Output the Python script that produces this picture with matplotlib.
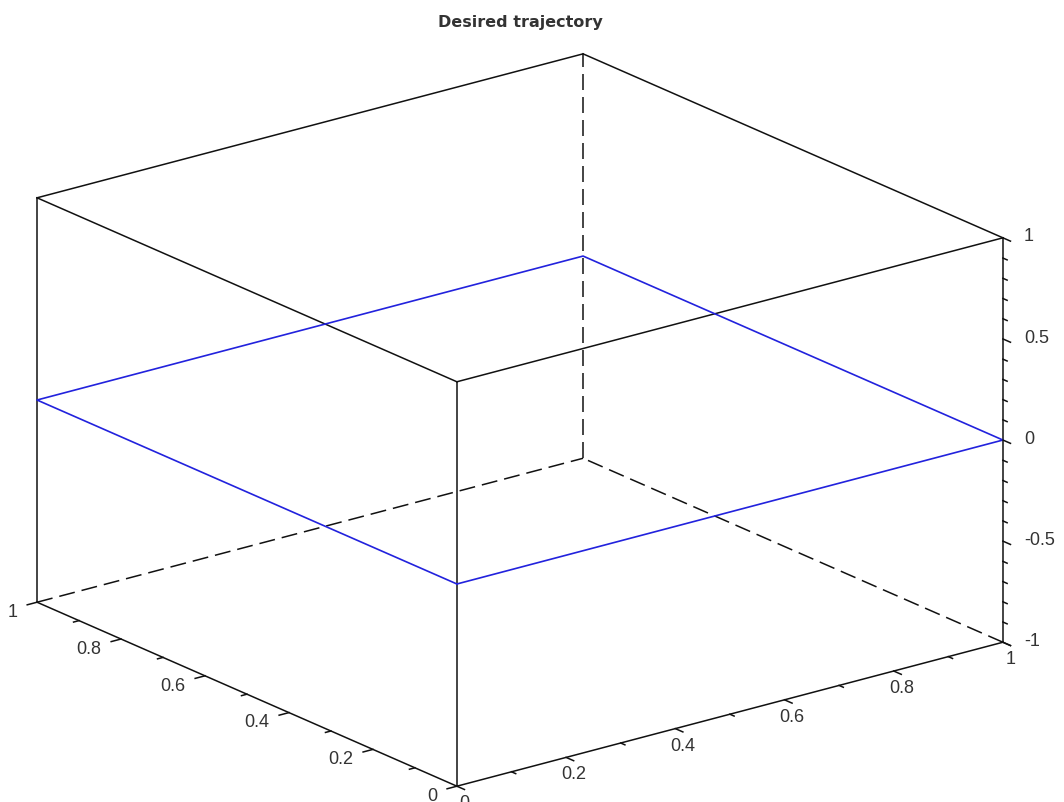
import matplotlib
matplotlib.use('Agg')
import matplotlib.pyplot as plt
import numpy as np
from mpl_toolkits.mplot3d import proj3d

# desired trajectory: unit square in the z = 0 plane
traj_x = [0, 1, 1, 0, 0]
traj_y = [0, 0, 1, 1, 0]
traj_z = [0, 0, 0, 0, 0]

x_ticks = [0, 0.2, 0.4, 0.6, 0.8, 1]
x_labels = ['0', '0.2', '0.4', '0.6', '0.8', '1']
y_ticks = [0, 0.2, 0.4, 0.6, 0.8, 1]
y_labels = ['0', '0.2', '0.4', '0.6', '0.8', '1']
z_ticks = [-1, -0.5, 0, 0.5, 1]
z_labels = ['-1', '-0.5', '0', '0.5', '1']

xlim = (0, 1)
ylim = (0, 1)
zlim = (-1, 1)

FONT = 'Liberation Sans'
LW = 1.1
DASH = (0, (12.8 * 0.9 / LW, 5.6 * 0.9 / LW))

fig = plt.figure(figsize=(10.64, 8.03), dpi=100)
ax = fig.add_axes([-26.4 / 1064, -164.4 / 803, 1.0, 1064 / 803], projection='3d')
ax.set_proj_type('ortho')
ax.view_init(elev=19.87, azim=-127.8)
ax.set_box_aspect((691, 685, 430), zoom=0.9706)
ax.set_xlim(*xlim)
ax.set_ylim(*ylim)
ax.set_zlim(*zlim)
ax.set_xticks([])
ax.set_yticks([])
ax.set_zticks([])
ax.set_axis_off()

# bounding box, edges meeting the hidden back corner are dashed
def corner(c):
    return (xlim[c[0]], ylim[c[1]], zlim[c[2]])

edges = []
for j in (0, 1):
    for k in (0, 1):
        edges.append(((0, j, k), (1, j, k)))
for i in (0, 1):
    for k in (0, 1):
        edges.append(((i, 0, k), (i, 1, k)))
for i in (0, 1):
    for j in (0, 1):
        edges.append(((i, j, 0), (i, j, 1)))

hidden = (1, 1, 0)
for a, b in edges:
    p, q = corner(a), corner(b)
    ls = DASH if hidden in (a, b) else '-'
    ax.plot([p[0], q[0]], [p[1], q[1]], [p[2], q[2]], color='#111111',
            lw=LW, linestyle=ls, clip_on=False)

# trajectory
ax.plot(traj_x, traj_y, traj_z, color='#2222dd', lw=1.2, clip_on=False)

# ticks
major_len = 0.018
minor_len = 0.01
minor_xy = np.round(np.arange(0, 1.001, 0.1), 2)
minor_z = np.round(np.arange(-1, 1.001, 0.1), 2)

for v in minor_xy:
    L = major_len if np.isclose(v, x_ticks).any() else minor_len
    ax.plot([v, v], [0, -L], [-1, -1], color='#111111', lw=LW, clip_on=False)
    ax.plot([0, -L], [v, v], [-1, -1], color='#111111', lw=LW, clip_on=False)
for v in minor_z:
    L = major_len if np.isclose(v, z_ticks).any() else minor_len
    ax.plot([1, 1], [0, -L], [v, v], color='#111111', lw=LW, clip_on=False)

# tick labels, projected to the 2d plane of the axes
M = ax.get_proj()

def label(x, y, z, s, **kw):
    px, py, _ = proj3d.proj_transform(x, y, z, M)
    ax.text2D(px, py, s, transform=ax.transData, fontsize=13, family=FONT,
              color='#333333', **kw)

for v, s in zip(x_ticks, x_labels):
    label(v, -0.018, -1.065, s, ha='center', va='center')
for v, s in zip(y_ticks, y_labels):
    label(-0.036, v, -1.02, s, ha='right', va='center')
for v, s in zip(z_ticks, z_labels):
    label(1, -0.05, v + 0.055, s, ha='left', va='center')

fig.text(520 / 1064, 1 - 22 / 803, 'Desired trajectory', ha='center',
         va='center', fontsize=11.5, fontweight='bold', family='DejaVu Sans',
         color='#333333')

fig.savefig('out.png', dpi=100)
